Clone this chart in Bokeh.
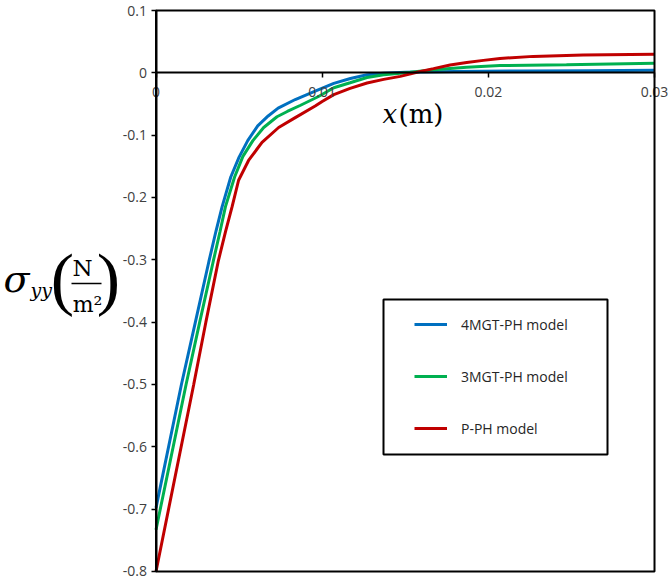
from bokeh.plotting import figure
from bokeh.models import FixedTicker, BoxAnnotation
from bokeh.core.properties import value
from bokeh.embed import file_html
from bokeh.resources import INLINE

# ---- data ----
x_4mgt = [0, 0.00153, 0.00237, 0.00318, 0.00360, 0.00398, 0.00450, 0.00500, 0.00552,
          0.00612, 0.00675, 0.00735, 0.00838, 0.00958, 0.0107, 0.0117, 0.0127, 0.0137,
          0.0150, 0.0180, 0.0220, 0.0260, 0.0300]
y_4mgt = [-0.698, -0.50, -0.40, -0.303, -0.255, -0.2147, -0.1671, -0.1353, -0.1088,
          -0.0850, -0.0692, -0.0565, -0.0428, -0.0295, -0.017, -0.009, -0.003, -0.0005,
          0.001, 0.002, 0.003, 0.0035, 0.004]

x_3mgt = [0, 0.00181, 0.00263, 0.00344, 0.00385, 0.00418, 0.00473, 0.00523, 0.00583,
          0.00648, 0.00728, 0.0079, 0.0087, 0.00978, 0.0107, 0.01168, 0.0127, 0.0137,
          0.0147, 0.0153, 0.0167, 0.0187, 0.0207, 0.0247, 0.0300]
y_3mgt = [-0.733, -0.50, -0.40, -0.303, -0.255, -0.2147, -0.1671, -0.134, -0.1088,
          -0.0877, -0.0705, -0.062, -0.052, -0.038, -0.024, -0.016, -0.0075, -0.003,
          -0.0005, 0.001, 0.0048, 0.009, 0.0116, 0.013, 0.0153]

x_pph = [0, 0.00227, 0.0030, 0.00374, 0.00418, 0.00458, 0.00497, 0.00557, 0.00638,
         0.00738, 0.00838, 0.00958, 0.0100, 0.0107, 0.01168, 0.0127, 0.0137, 0.0147,
         0.0157, 0.0167, 0.0177, 0.0187, 0.0197, 0.0207, 0.0227, 0.0257, 0.0300]
y_pph = [-0.800, -0.50, -0.40, -0.303, -0.255, -0.2147, -0.1723, -0.1406, -0.1115,
         -0.0877, -0.0719, -0.0533, -0.046, -0.0349, -0.025, -0.0163, -0.0105, -0.0057,
         0.001, 0.0068, 0.0127, 0.0165, 0.020, 0.023, 0.0264, 0.0285, 0.030]

series_names = ["4MGT-PH model", "3MGT-PH model", "P-PH model"]
series_colors = ["#0070C0", "#00B050", "#C00000"]

xticks = [0, 0.01, 0.02, 0.03]
xtick_labels = ["0", "0.01", "0.02", "0.03"]
yticks = [0.1, 0, -0.1, -0.2, -0.3, -0.4, -0.5, -0.6, -0.7, -0.8]
ytick_labels = ["0.1", "0", "-0.1", "-0.2", "-0.3", "-0.4", "-0.5", "-0.6", "-0.7", "-0.8"]

X_MIN, X_MAX = 0.0, 0.03
Y_MIN, Y_MAX = -0.8, 0.1

W, H = 669, 581


# pixel -> data helpers (used only to place annotations / the view window)
def rx(px):
    return (px - 155.5) / 16617.0


def ry(py):
    return 0.1 - (py - 10.0) / 623.33


p = figure(width=W, height=H, x_range=(rx(0), rx(W)), y_range=(ry(H), ry(0)),
           output_backend="svg", toolbar_location=None, min_border=0)
p.background_fill_color = "white"
p.border_fill_color = "white"
p.outline_line_color = None
p.xgrid.visible = False
p.ygrid.visible = False

# plot-area box
p.add_layout(BoxAnnotation(left=X_MIN, right=X_MAX, top=Y_MAX, bottom=Y_MIN,
                           fill_alpha=0, line_color="black", line_alpha=1, line_width=2))

ya = p.yaxis[0]
ya.fixed_location = X_MIN
ya.bounds = (Y_MIN, Y_MAX)
ya.ticker = FixedTicker(ticks=yticks)
ya.major_label_overrides = {t: s for t, s in zip(yticks, ytick_labels)}
ya.major_label_text_font = "Open Sans"
ya.major_label_text_font_size = "14px"
ya.major_label_text_color = "#404040"
ya.major_label_standoff = 4
ya.major_tick_in = 0
ya.major_tick_out = 5
ya.minor_tick_out = 0
ya.minor_tick_in = 0
ya.axis_line_width = 2
ya.axis_line_color = "black"
ya.major_tick_line_width = 1.5
ya.major_tick_line_color = "black"

xa = p.xaxis[0]
xa.fixed_location = 0
xa.bounds = (X_MIN, X_MAX)
xa.ticker = FixedTicker(ticks=xticks)
xa.major_label_overrides = {t: s for t, s in zip(xticks, xtick_labels)}
xa.major_label_text_font = "Open Sans"
xa.major_label_text_font_size = "14px"
xa.major_label_text_color = "#404040"
xa.major_label_standoff = 9
xa.major_tick_in = 0
xa.major_tick_out = 5
xa.minor_tick_out = 0
xa.minor_tick_in = 0
xa.axis_line_width = 2
xa.axis_line_color = "black"
xa.major_tick_line_width = 1.5
xa.major_tick_line_color = "black"

# legend frame
p.add_layout(BoxAnnotation(left=rx(383), right=rx(607), top=ry(299), bottom=ry(454),
                           fill_alpha=0, line_color="black", line_alpha=1, line_width=2))

for xs, ys, name, col in zip([x_4mgt, x_3mgt, x_pph], [y_4mgt, y_3mgt, y_pph],
                             series_names, series_colors):
    p.line(xs, ys, line_color=col, line_width=3, legend_label=name)

leg = p.legend[0]
leg.location = (414, 143)
leg.border_line_alpha = 0
leg.background_fill_alpha = 0
leg.padding = 0
leg.margin = 0
leg.spacing = 32
leg.glyph_width = 33
leg.glyph_height = 20
leg.label_height = 20
leg.label_standoff = 14
leg.label_text_font = "Open Sans"
leg.label_text_font_size = "14px"
leg.label_text_color = "#262626"


def put(px, py, s, font, size, style="normal", align="left"):
    p.text(x=[rx(px)], y=[ry(py)], text=[s], text_font=value(font), text_font_style=style,
           text_font_size=value(size), text_align=align, text_baseline="alphabetic",
           text_color="black")


# x axis title
put(382, 113, "x", "DejaVu Serif", "26px", style="italic")
put(398, 113, "(m)", "DejaVu Serif", "26px")

# y axis title: sigma_yy (N / m^2)
put(3, 278.9, "σ", "DejaVu Serif", "38px", style="italic")
put(30, 289.5, "yy", "DejaVu Serif", "19px", style="italic")
put(62, 278.4, "(", "Liberation Serif", "70px", align="center")
put(108, 278.4, ")", "Liberation Serif", "70px", align="center")
put(82, 267.0, "N", "DejaVu Serif", "23px", align="center")
p.segment(x0=[rx(71)], y0=[ry(283)], x1=[rx(101)], y1=[ry(283)], line_color="black",
          line_width=1.6)
put(87, 304.4, "m²", "DejaVu Serif", "22px", align="center")

open("out.html", "w").write(file_html(p, INLINE))
